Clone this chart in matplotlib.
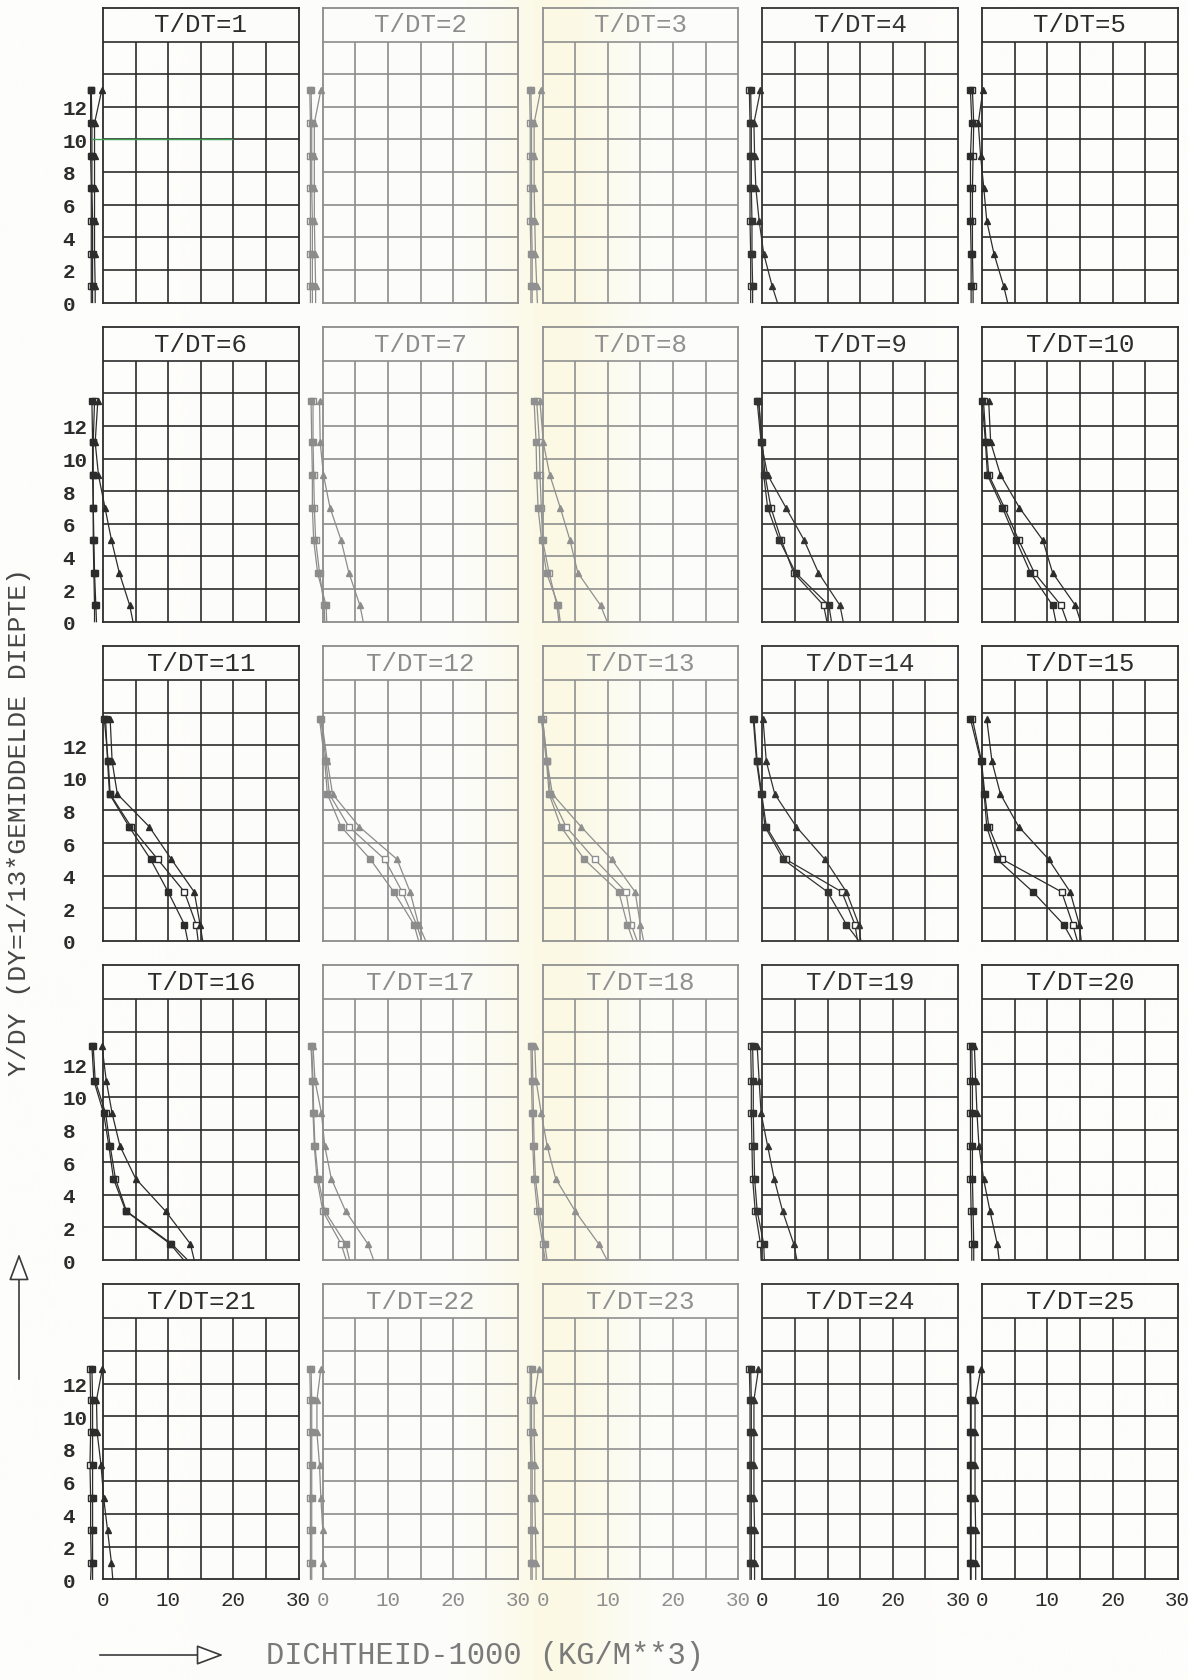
import numpy as np
import matplotlib
matplotlib.use('Agg')
import matplotlib.pyplot as plt
from matplotlib.patches import FancyArrowPatch

plt.rcParams['font.family'] = ['Liberation Mono', 'DejaVu Sans Mono']

# time steps, one panel each
STEPS = list(range(1, 26))

# computed levels y/dy (0 = bed); the free surface level is appended per step
LEVELS = [0, 1, 3, 5, 7, 9, 11]
SURFACE = [13.0, 13.0, 13.0, 13.0, 13.0,
           13.5, 13.5, 13.5, 13.5, 13.5,
           13.6, 13.6, 13.6, 13.6, 13.6,
           13.1, 13.1, 13.1, 13.1, 13.1,
           12.9, 12.9, 12.9, 12.9, 12.9]

# density - 1000 (kg/m3) at LEVELS + surface, three profiles per step
RHO_FILLED = [
    [-1.6, -1.6, -1.6, -1.6, -1.7, -1.7, -1.7, -1.8],
    [-1.6, -1.6, -1.6, -1.6, -1.7, -1.7, -1.7, -1.8],
    [-1.6, -1.6, -1.6, -1.7, -1.7, -1.7, -1.7, -1.8],
    [-1.5, -1.5, -1.6, -1.6, -1.7, -1.7, -1.7, -1.8],
    [-1.7, -1.7, -1.7, -1.8, -1.8, -1.8, -1.6, -1.8],
    [-1.3, -1.3, -1.4, -1.5, -1.5, -1.6, -1.6, -1.7],
    [0.6, 0.5, -0.8, -1.4, -1.6, -1.6, -1.7, -1.8],
    [2.7, 2.4, 0.6, -0.15, -0.7, -0.9, -1.0, -1.3],
    [10.6, 10.2, 5.1, 2.6, 0.8, 0.2, -0.2, -0.8],
    [11.3, 10.8, 7.4, 5.2, 3.1, 0.8, 0.5, 0.0],
    [13.0, 12.5, 10.0, 7.3, 4.0, 1.0, 0.7, 0.4],
    [14.7, 14.0, 10.9, 7.3, 2.8, 0.7, 0.3, -0.5],
    [13.9, 13.0, 11.7, 6.4, 2.8, 1.0, 0.6, -0.2],
    [14.8, 12.9, 10.0, 3.2, 0.4, -0.2, -0.9, -1.4],
    [13.9, 12.5, 7.8, 2.3, 0.7, 0.3, -0.2, -1.8],
    [12.4, 10.3, 3.5, 1.6, 0.9, 0.1, -1.4, -1.7],
    [4.1, 3.5, 0.3, -0.7, -1.2, -1.4, -1.5, -1.7],
    [0.7, 0.3, -0.5, -1.1, -1.3, -1.4, -1.5, -1.6],
    [0.3, 0.2, -0.8, -1.2, -1.3, -1.4, -1.4, -1.5],
    [-1.3, -1.3, -1.4, -1.5, -1.5, -1.5, -1.5, -1.6],
    [-1.6, -1.6, -1.6, -1.6, -1.6, -1.6, -1.6, -1.7],
    [-1.7, -1.7, -1.7, -1.7, -1.7, -1.7, -1.7, -1.8],
    [-1.6, -1.6, -1.6, -1.6, -1.6, -1.7, -1.7, -1.7],
    [-1.7, -1.7, -1.7, -1.7, -1.7, -1.7, -1.7, -1.8],
    [-1.7, -1.7, -1.7, -1.7, -1.7, -1.7, -1.7, -1.8],
]
RHO_OPEN = [
    [-1.8, -1.8, -1.8, -1.8, -1.8, -1.9, -1.9, -1.9],
    [-1.9, -1.9, -1.9, -1.9, -1.9, -1.9, -1.9, -2.0],
    [-1.8, -1.8, -1.8, -1.9, -1.9, -1.9, -1.9, -2.0],
    [-1.8, -1.8, -1.8, -1.9, -1.9, -1.9, -1.9, -2.0],
    [-1.4, -1.4, -1.5, -1.5, -1.5, -1.4, -1.3, -1.5],
    [-1.0, -1.1, -1.3, -1.4, -1.5, -1.5, -1.5, -1.3],
    [0.3, 0.2, -0.5, -1.1, -1.3, -1.4, -1.5, -1.5],
    [2.5, 2.2, 1.0, 0.0, -0.2, -0.4, -0.5, -0.9],
    [9.9, 9.4, 4.8, 2.9, 1.3, 0.4, 0.0, -0.6],
    [13.0, 12.1, 8.0, 5.6, 3.4, 1.0, 0.6, 0.2],
    [14.6, 14.3, 12.5, 8.4, 4.3, 1.1, 0.8, 0.2],
    [15.2, 14.4, 12.2, 9.5, 4.0, 1.0, 0.5, -0.3],
    [14.5, 13.6, 12.8, 8.0, 3.6, 1.2, 0.7, 0.0],
    [14.6, 14.2, 12.2, 3.6, 0.6, -0.1, -0.8, -1.3],
    [14.6, 13.9, 12.2, 3.1, 1.0, 0.4, -0.1, -1.5],
    [13.0, 10.5, 3.6, 1.9, 1.1, 0.4, -1.2, -1.5],
    [3.6, 2.8, 0.0, -0.9, -1.3, -1.5, -1.6, -1.8],
    [0.4, 0.0, -0.8, -1.3, -1.5, -1.6, -1.7, -1.8],
    [-0.2, -0.3, -1.1, -1.5, -1.6, -1.7, -1.7, -1.8],
    [-1.6, -1.6, -1.7, -1.8, -1.8, -1.8, -1.8, -1.8],
    [-1.9, -1.8, -1.9, -1.9, -2.0, -1.9, -1.9, -2.0],
    [-1.9, -1.9, -1.9, -1.9, -1.9, -1.9, -1.9, -2.0],
    [-1.8, -1.8, -1.8, -1.8, -1.8, -1.9, -1.9, -1.9],
    [-1.9, -1.9, -1.9, -1.9, -1.9, -1.9, -1.9, -2.0],
    [-1.8, -1.8, -1.8, -1.8, -1.8, -1.8, -1.8, -1.9],
]
RHO_TRIANGLE = [
    [-1.2, -1.2, -1.3, -1.3, -1.3, -1.3, -1.3, -0.2],
    [-1.1, -1.1, -1.2, -1.3, -1.3, -1.3, -1.3, -0.3],
    [-0.8, -0.9, -1.1, -1.2, -1.3, -1.3, -1.3, -0.3],
    [2.3, 1.5, 0.2, -0.5, -1.0, -1.2, -1.3, -0.3],
    [3.9, 3.3, 1.8, 0.7, 0.25, -0.25, -0.6, 0.1],
    [4.6, 4.1, 2.5, 1.3, 0.3, -0.7, -1.2, -0.8],
    [6.2, 5.7, 4.0, 2.8, 1.1, 0.1, -0.4, -0.5],
    [9.9, 8.9, 5.4, 4.2, 2.7, 1.1, 0.1, -0.4],
    [12.4, 11.9, 8.6, 6.4, 3.6, 0.8, -0.2, -0.5],
    [15.1, 14.3, 10.8, 9.3, 5.7, 2.8, 1.3, 1.0],
    [15.3, 14.9, 14.0, 10.5, 7.1, 2.2, 1.4, 1.1],
    [15.8, 14.7, 13.4, 11.4, 5.6, 1.5, 0.7, -0.2],
    [15.5, 15.0, 14.2, 10.6, 5.9, 1.5, 0.7, 0.0],
    [15.1, 14.8, 12.9, 9.6, 5.2, 1.9, 0.6, 0.1],
    [15.2, 14.9, 13.5, 10.2, 5.6, 2.8, 1.5, 0.7],
    [14.0, 13.4, 9.6, 5.0, 2.6, 1.4, 0.5, -0.15],
    [7.8, 6.9, 3.5, 1.3, 0.3, -0.2, -1.2, -1.5],
    [9.9, 8.6, 5.0, 2.0, 0.7, -0.2, -1.0, -1.2],
    [5.3, 4.8, 3.1, 1.8, 0.8, -0.2, -0.5, -0.8],
    [2.6, 2.3, 1.2, 0.2, -0.5, -0.8, -1.0, -1.2],
    [1.5, 1.3, 0.7, 0.1, -0.3, -0.9, -1.0, -0.1],
    [0.1, 0.1, 0.0, -0.3, -0.5, -0.9, -0.9, -0.3],
    [-1.0, -1.0, -1.1, -1.2, -1.2, -1.3, -1.3, -0.6],
    [-1.2, -1.2, -1.2, -1.3, -1.3, -1.3, -1.3, -0.6],
    [-1.0, -1.0, -1.0, -1.1, -1.1, -1.1, -1.1, -0.2],
]

Y_TICKS = [0, 2, 4, 6, 8, 10, 12]
X_TICKS = [0, 10, 20, 30]
# pen mark over the first panel
MARK_LEVEL = 10
MARK_SPAN = (-1.7, 20.0)

# pen shade per panel column (the copy is faded in the middle)
INK = ['#2c2c2c', '#8c8c8c', '#909090', '#333333', '#2c2c2c']

W, H = 1188, 1681
fig = plt.figure(figsize=(W / 100, H / 100), dpi=100)
fig.patch.set_facecolor('#fdfdfb')

# faint yellowish paper tone down the middle
bg = fig.add_axes([0, 0, 1, 1], zorder=-10)
xx = np.linspace(0, 1, 400)
tone = np.exp(-((xx - 0.47) / 0.055) ** 2)
base = np.array([253, 253, 251]) / 255
tint = np.array([251, 249, 228]) / 255
img = base[None, :] + tone[:, None] * (tint - base)[None, :]
bg.imshow(img[None, :, :], aspect='auto', extent=[0, 1, 0, 1])
bg.set_axis_off()

GRID_TOP = 16.0
Y_MAX = GRID_TOP + 34 / 261 * 16

for i, step in enumerate(STEPS):
    r, c = divmod(i, 5)
    ink = INK[c]
    bottom_px = 303.5 + 319.2 * r
    ax = fig.add_axes([(103 + 219.8 * c) / W, 1 - bottom_px / H,
                       195.5 / W, 295 / H])
    ax.set_xlim(0, 30)
    ax.set_ylim(0, Y_MAX)
    ax.patch.set_alpha(0)
    for sp in ax.spines.values():
        sp.set_color(ink)
        sp.set_linewidth(1.3)

    ax.vlines(np.arange(5, 30, 5), 0, GRID_TOP, color=ink, lw=1.2)
    ax.hlines(np.arange(2, GRID_TOP + 1, 2), 0, 30, color=ink, lw=1.2)
    ax.text(15, (GRID_TOP + Y_MAX) / 2, f'T/DT={step}', ha='center',
            va='center', fontsize=18.5, color=ink)

    y = LEVELS + [SURFACE[i]]
    ax.plot(RHO_OPEN[i], y, color=ink, lw=0.9, marker='s', ms=4.2,
            mfc='white', mew=1.0, markevery=slice(1, None), clip_on=False)
    ax.plot(RHO_FILLED[i], y, color=ink, lw=0.9, marker='s', ms=4.2,
            markevery=slice(1, None), clip_on=False)
    ax.plot(RHO_TRIANGLE[i], y, color=ink, lw=0.9, marker='^', ms=4.2,
            markevery=slice(1, None), clip_on=False)

    if i == 0:
        ax.hlines(MARK_LEVEL, *MARK_SPAN, color='#3a9e52', lw=1.0,
                  clip_on=False, zorder=5)

    if c == 0:
        ax.set_yticks(Y_TICKS)
        ax.set_yticklabels([str(v) for v in Y_TICKS], fontweight='bold')
        ax.tick_params(axis='y', length=0, pad=29, labelsize=15,
                       labelcolor=ink)
        for lbl in ax.get_yticklabels():
            lbl.set_horizontalalignment('left')
    else:
        ax.set_yticks([])
    if r == 4:
        ax.set_xticks(X_TICKS)
        ax.set_xticklabels([str(v) for v in X_TICKS])
        ax.tick_params(axis='x', length=0, pad=8, labelsize=15,
                       labelcolor=ink)
    else:
        ax.set_xticks([])

# axis titles with plotter-style arrows
fig.text(19 / W, 1 - 822 / H, 'Y/DY (DY=1/13*GEMIDDELDE DIEPTE)',
         rotation=90, ha='center', va='center', fontsize=19, color='#454545')
fig.text(485 / W, 1 - 1656 / H, 'DICHTHEID-1000 (KG/M**3)',
         ha='center', va='center', fontsize=22, color='#7a7a7a')

arrow_kw = dict(arrowstyle='-|>,head_length=1.2,head_width=0.45',
                mutation_scale=14, lw=1.2, ec='#3a3a3a', fc='white',
                transform=fig.transFigure)
fig.patches.append(FancyArrowPatch((19 / W, 1 - 1383 / H),
                                   (19 / W, 1 - 1252 / H), **arrow_kw))
fig.patches.append(FancyArrowPatch((97 / W, 1 - 1656 / H),
                                   (226 / W, 1 - 1656 / H), **arrow_kw))

fig.savefig('out.png', dpi=100, facecolor=fig.get_facecolor())
